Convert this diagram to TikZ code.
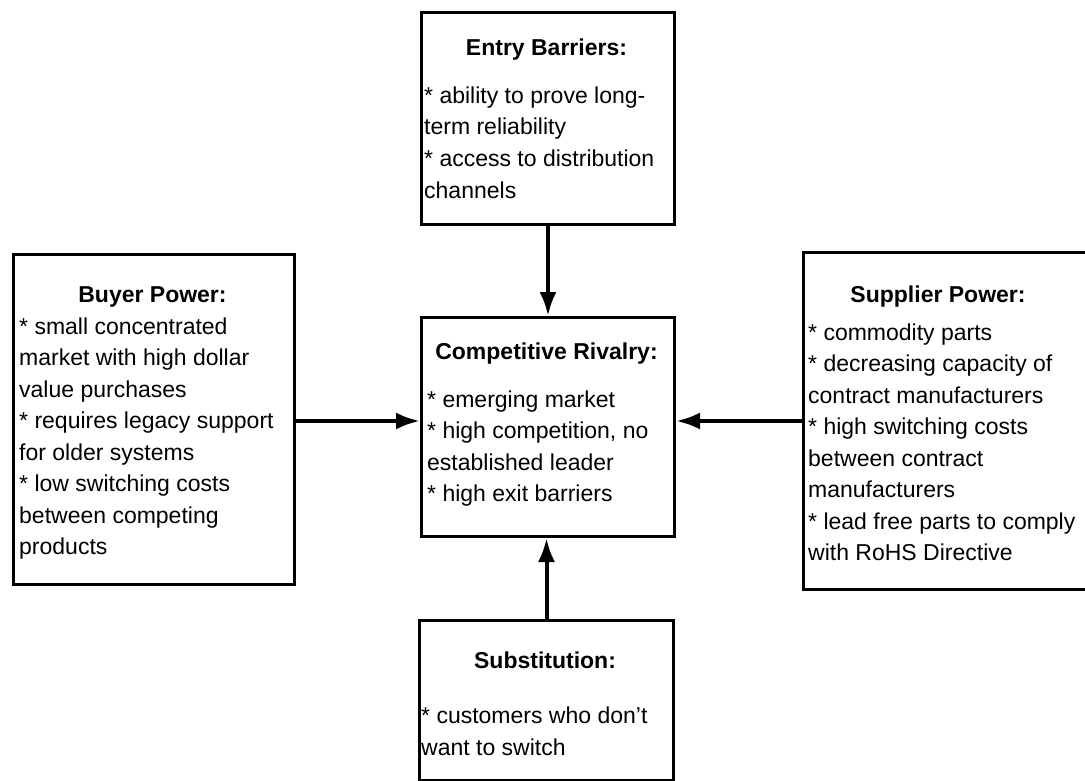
\documentclass[tikz,border=0pt]{standalone}
\usepackage{fontspec}
\setmainfont{Liberation Sans}
\usetikzlibrary{arrows.meta}
\begin{document}
\begin{tikzpicture}[x=1pt,y=-1pt,
  box/.style={draw=black, line width=3pt, rectangle, anchor=north west, inner sep=0pt},
  heading/.style={anchor=base, inner sep=0pt, font=\fontsize{23}{31.5}\selectfont\bfseries},
  body/.style={anchor=base west, inner sep=0pt, align=left, font=\fontsize{23}{31.5}\selectfont},
  link/.style={line width=4pt, -{Latex[length=24pt,width=17pt]}}]
\useasboundingbox (0,0) rectangle (1085,781);

% the five force boxes
\node[box, minimum width=253pt, minimum height=212pt] (entry) at (420,11) {};
\node[box, minimum width=281pt, minimum height=330pt] (buyer) at (12,253) {};
\node[box, minimum width=253pt, minimum height=219pt] (rivalry) at (420,316) {};
\node[box, minimum width=300pt, minimum height=337pt] (supplier) at (802,251) {};
\node[box, minimum width=254pt, minimum height=160pt] (subst) at (418,619) {};

% headings
\node[heading] (entryT) at (546.5,56) {Entry Barriers:};
\node[heading] (buyerT) at (152.5,302) {Buyer Power:};
\node[heading] (rivalryT) at (546.5,359) {Competitive Rivalry:};
\node[heading] (supplierT) at (938,302) {Supplier Power:};
\node[heading] (substT) at (545,668) {Substitution:};

% bullet lists, placed by the baseline of their last line
\node[body] (entryB) at (424,198) {* ability to prove long-\\term reliability\\* access to distribution\\channels};
\node[body] (buyerB) at (19,554.5) {* small concentrated\\market with high dollar\\value purchases\\* requires legacy support\\for older systems\\* low switching costs\\between competing\\products};
\node[body] (rivalryB) at (427,501.5) {* emerging market\\* high competition, no\\established leader\\* high exit barriers};
\node[body] (supplierB) at (808,560.5) {* commodity parts\\* decreasing capacity of\\contract manufacturers\\* high switching costs\\between contract\\manufacturers\\* lead free parts to comply\\with RoHS Directive};
\node[body] (substB) at (421,755) {* customers who don't\\want to switch};

% forces acting on the rivalry box
\coordinate (row) at (0,421);
\draw[link] (entry.south) -- (rivalry.north);
\draw[link] (subst.north) -- (subst.north |- rivalry.south);
\draw[link] (buyer.east |- row) -- (rivalry.west |- row);
\draw[link] (supplier.west |- row) -- (rivalry.east |- row);
\end{tikzpicture}
\end{document}
